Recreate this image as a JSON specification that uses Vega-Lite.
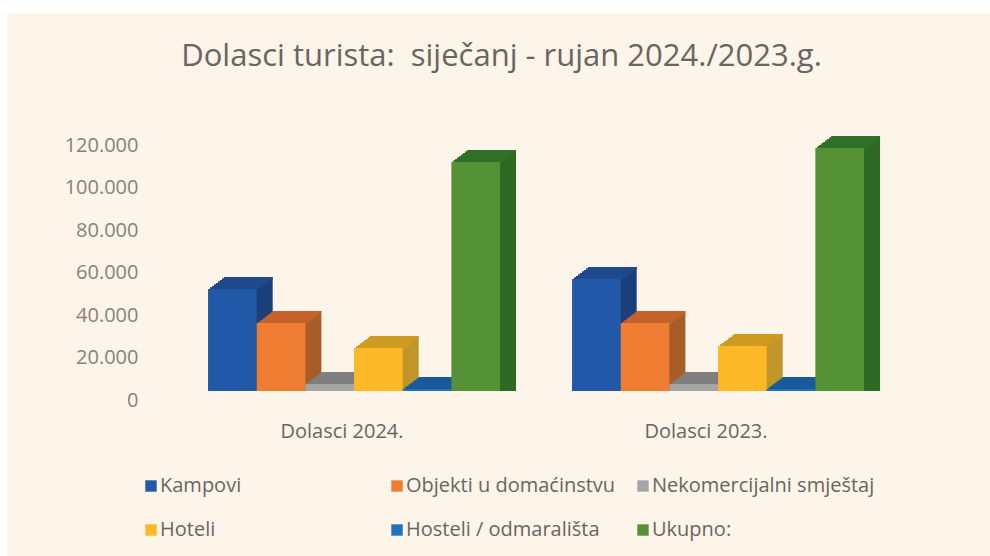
{
"$schema":"https://vega.github.io/schema/vega-lite/v6.json",
"width":983,"height":543,
"padding":{"left":7,"top":13,"right":0,"bottom":0},
"autosize":{"type":"none"},
"background":"#ffffff",
"title":{"text":"Dolasci turista:\u00a0 siječanj - rujan 2024./2023.g.","font":"Open Sans","fontSize":31,"fontWeight":"normal","color":"#6b6560","anchor":"middle","offset":-60,"dx":3},
"config":{"view":{"fill":"#fdf4ea","stroke":null}},
"datasets":{"d":[
{"period":"Dolasci 2024.","cat":"Kampovi","value":48000},
{"period":"Dolasci 2024.","cat":"Objekti u domaćinstvu","value":32000},
{"period":"Dolasci 2024.","cat":"Nekomercijalni smještaj","value":3300},
{"period":"Dolasci 2024.","cat":"Hoteli","value":20200},
{"period":"Dolasci 2024.","cat":"Hosteli / odmarališta","value":1000},
{"period":"Dolasci 2024.","cat":"Ukupno:","value":107800},
{"period":"Dolasci 2023.","cat":"Kampovi","value":52700},
{"period":"Dolasci 2023.","cat":"Objekti u domaćinstvu","value":32000},
{"period":"Dolasci 2023.","cat":"Nekomercijalni smještaj","value":3300},
{"period":"Dolasci 2023.","cat":"Hoteli","value":21200},
{"period":"Dolasci 2023.","cat":"Hosteli / odmarališta","value":1000},
{"period":"Dolasci 2023.","cat":"Ukupno:","value":114300}
]},
"data":{"name":"d"},
"encoding":{
"x":{"field":"period","type":"nominal","sort":["Dolasci 2024.","Dolasci 2023."],"scale":{"range":[165,893],"paddingInner":0.198,"paddingOuter":0.099},"axis":{"title":null,"labelAngle":0,"domain":false,"ticks":false,"offset":-135,"labelPadding":0,"labelOffset":-12,"labelFont":"Open Sans","labelFontSize":20,"labelColor":"#6b6560"}},
"y":{"field":"value","type":"quantitative","stack":null,"scale":{"domain":[0,120000],"range":[378,123],"nice":false},"axis":{"title":null,"values":[0,20000,40000,60000,80000,100000,120000],"grid":false,"domain":false,"ticks":false,"offset":-131,"labelPadding":0,"labelOffset":9,"labelFont":"Open Sans","labelFontSize":20,"labelColor":"#8a817a","labelExpr":"replace(format(datum.value,','),',','.')"}},
"color":{"field":"cat","type":"nominal","sort":null,"legend":null,"scale":{"domain":["Kampovi","Objekti u domaćinstvu","Nekomercijalni smještaj","Hoteli","Hosteli / odmarališta","Ukupno:"],"range":["#1c3f7a","#a85c28","#808080","#c0952a","#1a5a9c","#2f6a24"]}}
},
"layer":[
{"mark":{"type":"bar","yOffset":-12,"y2Offset":-12},"encoding":{"xOffset":{"field":"cat","sort":null,"scale":{"domain":["Kampovi","Objekti u domaćinstvu","Nekomercijalni smještaj","Hoteli","Hosteli / odmarališta","Ukupno:"],"range":[16,308],"paddingInner":0,"paddingOuter":0}}}},
{"mark":{"type":"bar","yOffset":-10.5,"y2Offset":-10.5},"encoding":{"xOffset":{"field":"cat","sort":null,"scale":{"domain":["Kampovi","Objekti u domaćinstvu","Nekomercijalni smještaj","Hoteli","Hosteli / odmarališta","Ukupno:"],"range":[14,306],"paddingInner":0,"paddingOuter":0}}}},
{"mark":{"type":"bar","yOffset":-9,"y2Offset":-9},"encoding":{"xOffset":{"field":"cat","sort":null,"scale":{"domain":["Kampovi","Objekti u domaćinstvu","Nekomercijalni smještaj","Hoteli","Hosteli / odmarališta","Ukupno:"],"range":[12,304],"paddingInner":0,"paddingOuter":0}}}},
{"mark":{"type":"bar","yOffset":-7.5,"y2Offset":-7.5},"encoding":{"xOffset":{"field":"cat","sort":null,"scale":{"domain":["Kampovi","Objekti u domaćinstvu","Nekomercijalni smještaj","Hoteli","Hosteli / odmarališta","Ukupno:"],"range":[10,302],"paddingInner":0,"paddingOuter":0}}}},
{"mark":{"type":"bar","yOffset":-6,"y2Offset":-6},"encoding":{"xOffset":{"field":"cat","sort":null,"scale":{"domain":["Kampovi","Objekti u domaćinstvu","Nekomercijalni smještaj","Hoteli","Hosteli / odmarališta","Ukupno:"],"range":[8,300],"paddingInner":0,"paddingOuter":0}}}},
{"mark":{"type":"bar","yOffset":-4.5,"y2Offset":-4.5},"encoding":{"xOffset":{"field":"cat","sort":null,"scale":{"domain":["Kampovi","Objekti u domaćinstvu","Nekomercijalni smještaj","Hoteli","Hosteli / odmarališta","Ukupno:"],"range":[6,298],"paddingInner":0,"paddingOuter":0}}}},
{"mark":{"type":"bar","yOffset":-3,"y2Offset":-3},"encoding":{"xOffset":{"field":"cat","sort":null,"scale":{"domain":["Kampovi","Objekti u domaćinstvu","Nekomercijalni smještaj","Hoteli","Hosteli / odmarališta","Ukupno:"],"range":[4,296],"paddingInner":0,"paddingOuter":0}}}},
{"mark":{"type":"bar","yOffset":-1.5,"y2Offset":-1.5},"encoding":{"xOffset":{"field":"cat","sort":null,"scale":{"domain":["Kampovi","Objekti u domaćinstvu","Nekomercijalni smještaj","Hoteli","Hosteli / odmarališta","Ukupno:"],"range":[2,294],"paddingInner":0,"paddingOuter":0}}}},
{"mark":{"type":"tick","orient":"horizontal","bandSize":48.7,"thickness":2.5,"opacity":1,"yOffset":-10.75},"encoding":{"xOffset":{"field":"cat","sort":null,"scale":{"domain":["Kampovi","Objekti u domaćinstvu","Nekomercijalni smještaj","Hoteli","Hosteli / odmarališta","Ukupno:"],"range":[16,308],"paddingInner":0,"paddingOuter":0}},"color":{"field":"cat","sort":null,"legend":null,"scale":{"domain":["Kampovi","Objekti u domaćinstvu","Nekomercijalni smještaj","Hoteli","Hosteli / odmarališta","Ukupno:"],"range":["#1e4a8c","#c4622a","#7f7f7f","#cf9a20","#1a5a9c","#2f7026"]}}}},
{"mark":{"type":"tick","orient":"horizontal","bandSize":48.7,"thickness":2.5,"opacity":1,"yOffset":-9.25},"encoding":{"xOffset":{"field":"cat","sort":null,"scale":{"domain":["Kampovi","Objekti u domaćinstvu","Nekomercijalni smještaj","Hoteli","Hosteli / odmarališta","Ukupno:"],"range":[14,306],"paddingInner":0,"paddingOuter":0}},"color":{"field":"cat","sort":null,"legend":null,"scale":{"domain":["Kampovi","Objekti u domaćinstvu","Nekomercijalni smještaj","Hoteli","Hosteli / odmarališta","Ukupno:"],"range":["#1e4a8c","#c4622a","#7f7f7f","#cf9a20","#1a5a9c","#2f7026"]}}}},
{"mark":{"type":"tick","orient":"horizontal","bandSize":48.7,"thickness":2.5,"opacity":1,"yOffset":-7.75},"encoding":{"xOffset":{"field":"cat","sort":null,"scale":{"domain":["Kampovi","Objekti u domaćinstvu","Nekomercijalni smještaj","Hoteli","Hosteli / odmarališta","Ukupno:"],"range":[12,304],"paddingInner":0,"paddingOuter":0}},"color":{"field":"cat","sort":null,"legend":null,"scale":{"domain":["Kampovi","Objekti u domaćinstvu","Nekomercijalni smještaj","Hoteli","Hosteli / odmarališta","Ukupno:"],"range":["#1e4a8c","#c4622a","#7f7f7f","#cf9a20","#1a5a9c","#2f7026"]}}}},
{"mark":{"type":"tick","orient":"horizontal","bandSize":48.7,"thickness":2.5,"opacity":1,"yOffset":-6.25},"encoding":{"xOffset":{"field":"cat","sort":null,"scale":{"domain":["Kampovi","Objekti u domaćinstvu","Nekomercijalni smještaj","Hoteli","Hosteli / odmarališta","Ukupno:"],"range":[10,302],"paddingInner":0,"paddingOuter":0}},"color":{"field":"cat","sort":null,"legend":null,"scale":{"domain":["Kampovi","Objekti u domaćinstvu","Nekomercijalni smještaj","Hoteli","Hosteli / odmarališta","Ukupno:"],"range":["#1e4a8c","#c4622a","#7f7f7f","#cf9a20","#1a5a9c","#2f7026"]}}}},
{"mark":{"type":"tick","orient":"horizontal","bandSize":48.7,"thickness":2.5,"opacity":1,"yOffset":-4.75},"encoding":{"xOffset":{"field":"cat","sort":null,"scale":{"domain":["Kampovi","Objekti u domaćinstvu","Nekomercijalni smještaj","Hoteli","Hosteli / odmarališta","Ukupno:"],"range":[8,300],"paddingInner":0,"paddingOuter":0}},"color":{"field":"cat","sort":null,"legend":null,"scale":{"domain":["Kampovi","Objekti u domaćinstvu","Nekomercijalni smještaj","Hoteli","Hosteli / odmarališta","Ukupno:"],"range":["#1e4a8c","#c4622a","#7f7f7f","#cf9a20","#1a5a9c","#2f7026"]}}}},
{"mark":{"type":"tick","orient":"horizontal","bandSize":48.7,"thickness":2.5,"opacity":1,"yOffset":-3.25},"encoding":{"xOffset":{"field":"cat","sort":null,"scale":{"domain":["Kampovi","Objekti u domaćinstvu","Nekomercijalni smještaj","Hoteli","Hosteli / odmarališta","Ukupno:"],"range":[6,298],"paddingInner":0,"paddingOuter":0}},"color":{"field":"cat","sort":null,"legend":null,"scale":{"domain":["Kampovi","Objekti u domaćinstvu","Nekomercijalni smještaj","Hoteli","Hosteli / odmarališta","Ukupno:"],"range":["#1e4a8c","#c4622a","#7f7f7f","#cf9a20","#1a5a9c","#2f7026"]}}}},
{"mark":{"type":"tick","orient":"horizontal","bandSize":48.7,"thickness":2.5,"opacity":1,"yOffset":-1.75},"encoding":{"xOffset":{"field":"cat","sort":null,"scale":{"domain":["Kampovi","Objekti u domaćinstvu","Nekomercijalni smještaj","Hoteli","Hosteli / odmarališta","Ukupno:"],"range":[4,296],"paddingInner":0,"paddingOuter":0}},"color":{"field":"cat","sort":null,"legend":null,"scale":{"domain":["Kampovi","Objekti u domaćinstvu","Nekomercijalni smještaj","Hoteli","Hosteli / odmarališta","Ukupno:"],"range":["#1e4a8c","#c4622a","#7f7f7f","#cf9a20","#1a5a9c","#2f7026"]}}}},
{"mark":{"type":"tick","orient":"horizontal","bandSize":48.7,"thickness":2.5,"opacity":1,"yOffset":-0.25},"encoding":{"xOffset":{"field":"cat","sort":null,"scale":{"domain":["Kampovi","Objekti u domaćinstvu","Nekomercijalni smještaj","Hoteli","Hosteli / odmarališta","Ukupno:"],"range":[2,294],"paddingInner":0,"paddingOuter":0}},"color":{"field":"cat","sort":null,"legend":null,"scale":{"domain":["Kampovi","Objekti u domaćinstvu","Nekomercijalni smještaj","Hoteli","Hosteli / odmarališta","Ukupno:"],"range":["#1e4a8c","#c4622a","#7f7f7f","#cf9a20","#1a5a9c","#2f7026"]}}}},
{"mark":{"type":"bar"},"encoding":{"xOffset":{"field":"cat","sort":null,"scale":{"domain":["Kampovi","Objekti u domaćinstvu","Nekomercijalni smještaj","Hoteli","Hosteli / odmarališta","Ukupno:"],"range":[0,292],"paddingInner":0,"paddingOuter":0}},"color":{"field":"cat","type":"nominal","sort":null,"scale":{"domain":["Kampovi","Objekti u domaćinstvu","Nekomercijalni smještaj","Hoteli","Hosteli / odmarališta","Ukupno:"],"range":["#2258a8","#ef7d31","#a5a5a5","#fdb827","#1f72bd","#559135"]},"legend":{"title":null,"orient":"none","direction":"horizontal","legendX":134,"legendY":463,"columns":3,"gridAlign":"all","columnPadding":4,"rowPadding":24,"symbolType":"square","symbolSize":130,"symbolStrokeWidth":0,"labelOffset":-1,"labelFont":"Open Sans","labelFontSize":20,"labelColor":"#6b6560","labelLimit":300}}}}
],
"resolve":{"scale":{"color":"independent","xOffset":"independent"}}
}
